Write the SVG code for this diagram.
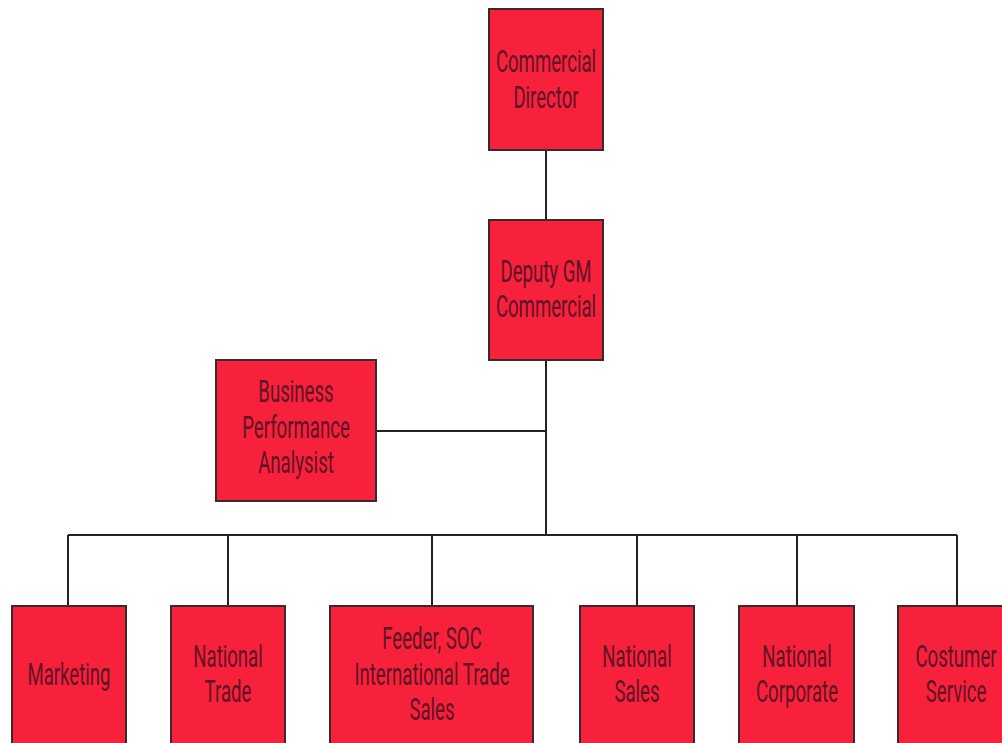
<svg xmlns="http://www.w3.org/2000/svg" width="1002" height="743" viewBox="0 0 1002 743">
<style>
.box{fill:#f7213c;stroke:#3a2a2c;stroke-width:2}
.lbl{font-family:Roboto,"Liberation Sans",sans-serif;font-size:31px;fill:#5e1424;text-anchor:middle}
.con{stroke:#222;stroke-width:2;fill:none}
</style>
<rect width="1002" height="743" fill="#ffffff"/>
<g id="connectors">
<path class="con" d="M546 151V220"/>
<path class="con" d="M546 360V535"/>
<path class="con" d="M376 431H546"/>
<path class="con" d="M68 535H957"/>
<path class="con" d="M68 535V606M228 535V606M432 535V606M637 535V606M797 535V606M957 535V606"/>
</g>
<g id="commercial-director">
<rect class="box" x="489" y="9" width="114" height="141"/>
<text class="lbl" transform="translate(546 72) scale(0.6 1)">Commercial</text>
<text class="lbl" transform="translate(546 108) scale(0.6 1)">Director</text>
</g>
<g id="deputy-gm">
<rect class="box" x="489" y="220" width="114" height="140"/>
<text class="lbl" transform="translate(546 282) scale(0.6 1)">Deputy GM</text>
<text class="lbl" transform="translate(546 317) scale(0.6 1)">Commercial</text>
</g>
<g id="bpa">
<rect class="box" x="216" y="360" width="160" height="141"/>
<text class="lbl" transform="translate(296 402) scale(0.6 1)">Business</text>
<text class="lbl" transform="translate(296 438) scale(0.6 1)">Performance</text>
<text class="lbl" transform="translate(296 473) scale(0.6 1)">Analysist</text>
</g>
<g id="marketing">
<rect class="box" x="12" y="606" width="114" height="150"/>
<text class="lbl" transform="translate(69 685) scale(0.6 1)">Marketing</text>
</g>
<g id="national-trade">
<rect class="box" x="171" y="606" width="114" height="150"/>
<text class="lbl" transform="translate(228 667) scale(0.6 1)">National</text>
<text class="lbl" transform="translate(228 702) scale(0.6 1)">Trade</text>
</g>
<g id="feeder">
<rect class="box" x="330" y="606" width="203" height="150"/>
<text class="lbl" transform="translate(432 649) scale(0.6 1)">Feeder, SOC</text>
<text class="lbl" transform="translate(432 685) scale(0.6 1)">International Trade</text>
<text class="lbl" transform="translate(432 720) scale(0.6 1)">Sales</text>
</g>
<g id="national-sales">
<rect class="box" x="580" y="606" width="114" height="150"/>
<text class="lbl" transform="translate(637 667) scale(0.6 1)">National</text>
<text class="lbl" transform="translate(637 702) scale(0.6 1)">Sales</text>
</g>
<g id="national-corporate">
<rect class="box" x="739" y="606" width="115" height="150"/>
<text class="lbl" transform="translate(797 667) scale(0.6 1)">National</text>
<text class="lbl" transform="translate(797 702) scale(0.6 1)">Corporate</text>
</g>
<g id="costumer-service">
<rect class="box" x="898" y="606" width="115" height="150"/>
<text class="lbl" transform="translate(956 667) scale(0.6 1)">Costumer</text>
<text class="lbl" transform="translate(956 702) scale(0.6 1)">Service</text>
</g>
</svg>
